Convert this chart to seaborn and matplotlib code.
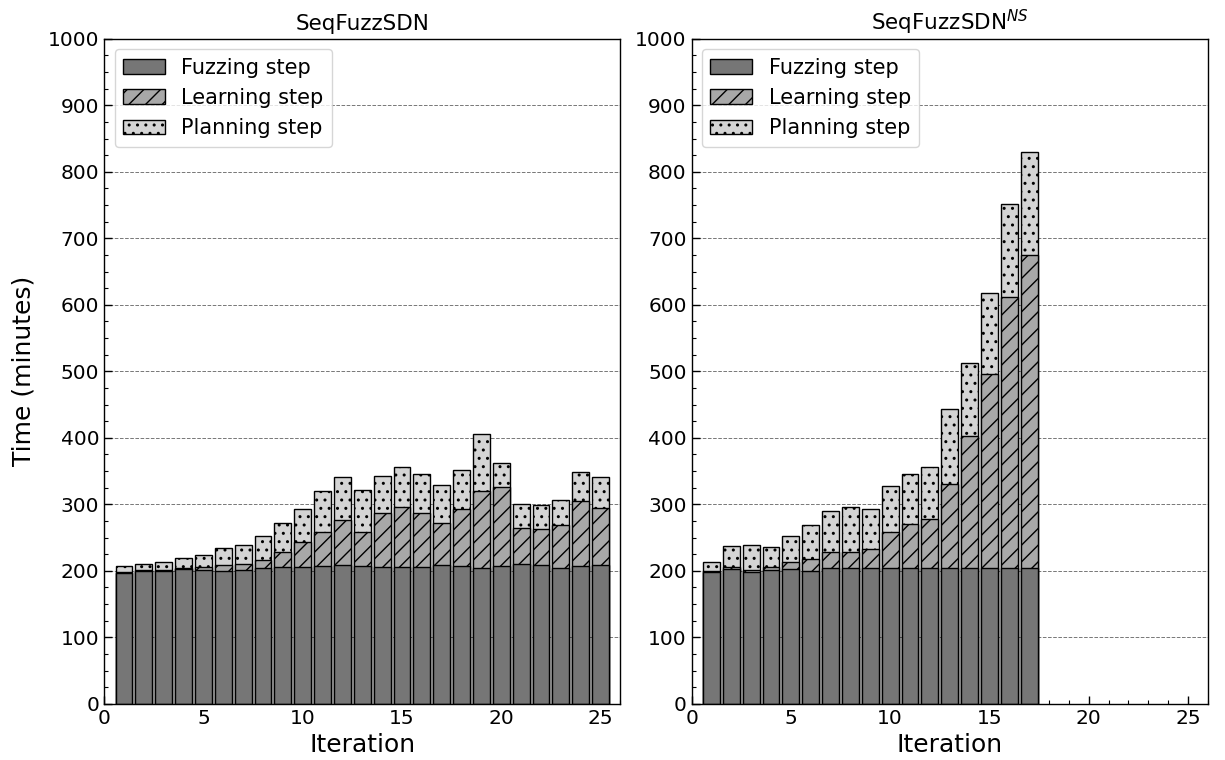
import numpy as np
import pandas as pd
import matplotlib
matplotlib.use("Agg")
import matplotlib.pyplot as plt
from matplotlib.patches import Patch
from matplotlib.ticker import MultipleLocator
import seaborn as sns

# ---------------- data ----------------
iter_a = list(range(1, 26))
fuzz_a = [197, 199, 199, 202.5, 201.5, 200, 201.5, 203.5, 205, 205, 207, 208.5, 207,
          206, 205.5, 205, 209, 207.5, 203.5, 206.5, 209.5, 209, 203.5, 207.5, 208.5]
learn_a = [1, 2, 1.5, 2, 4, 8.5, 8.5, 13, 23, 38.5, 51.5, 68.5, 52,
           81, 90, 82, 63.5, 85.5, 117, 119, 55.5, 54, 65, 97, 86.5]
plan_a = [8.5, 9.5, 12, 14, 18, 25.5, 29, 36.5, 44, 49, 61, 64.5, 62,
          55, 60, 58.5, 56.5, 59, 84.5, 36.5, 35.5, 36, 38.5, 44, 46.5]

iter_b = list(range(1, 18))
fuzz_b = [198, 203, 198, 201.5, 202.5, 199, 203.5, 203.5, 203.5, 204, 204, 204, 204,
          204, 204, 204, 204]
learn_b = [1, 2, 3.5, 3.5, 11, 18.5, 24.5, 25, 29.5, 55, 66.5, 73.5, 126,
           199, 292, 407, 471]
plan_b = [14, 31.5, 37, 30.5, 39, 51, 62, 67.5, 60, 69, 75.5, 79, 114,
          110, 122, 140, 154]

titles = ["SeqFuzzSDN", "SeqFuzzSDN$^{NS}$"]
labels = ["Fuzzing step", "Learning step", "Planning step"]
colors = ["#767676", "#a8a8a8", "#d4d4d4"]
hatches = ["", "//", ".."]

# ---------------- style ----------------
sns.set_theme(style="white")
plt.rcParams["font.family"] = ["DejaVu Sans"]
plt.rcParams["hatch.linewidth"] = 1.0
plt.rcParams["hatch.color"] = "black"
plt.rcParams["text.color"] = "black"
plt.rcParams["axes.labelcolor"] = "black"
plt.rcParams["xtick.color"] = "black"
plt.rcParams["ytick.color"] = "black"

fig, axes = plt.subplots(1, 2, figsize=(12.25, 7.6), dpi=100)
fig.subplots_adjust(left=0.085, right=0.986, bottom=0.074, top=0.949, wspace=0.138)

panels = [(iter_a, fuzz_a, learn_a, plan_a), (iter_b, fuzz_b, learn_b, plan_b)]

for ax, title, (it, fz, ln, pl) in zip(axes, titles, panels):
    df = pd.DataFrame({"Iteration": it, "fuzz": fz, "learn": ln, "plan": pl})
    df["lvl_fuzz"] = df["fuzz"]
    df["lvl_learn"] = df["fuzz"] + df["learn"]
    df["lvl_plan"] = df["fuzz"] + df["learn"] + df["plan"]
    # draw from top layer down so lower layers cover upper ones
    for col, c, h in [("lvl_plan", colors[2], hatches[2]),
                      ("lvl_learn", colors[1], hatches[1]),
                      ("lvl_fuzz", colors[0], hatches[0])]:
        sns.barplot(data=df, x="Iteration", y=col, native_scale=True, ax=ax,
                    color=c, saturation=1, width=0.85, edgecolor="black",
                    linewidth=1.0, hatch=h, errorbar=None, zorder=2)

    ax.set_xlim(0, 26)
    ax.set_ylim(0, 1000)
    ax.set_title(title, fontsize=15.5, color="black")
    ax.set_xlabel("Iteration", fontsize=18)
    ax.set_ylabel("")
    ax.yaxis.set_major_locator(MultipleLocator(100))
    ax.yaxis.set_minor_locator(MultipleLocator(25))
    ax.xaxis.set_major_locator(MultipleLocator(5))
    ax.xaxis.set_minor_locator(MultipleLocator(1))
    ax.tick_params(axis="both", which="both", direction="in", labelsize=14.5,
                   left=True, bottom=True, top=False, right=False, colors="black")
    ax.tick_params(axis="both", which="major", length=6, width=1)
    ax.tick_params(axis="both", which="minor", length=3, width=0.8)
    ax.yaxis.grid(True, which="major", linestyle="--", color="#777777", linewidth=0.7)
    ax.xaxis.grid(False)
    ax.set_axisbelow(True)
    for s in ax.spines.values():
        s.set_visible(True)
        s.set_color("black")
        s.set_linewidth(1.0)

    handles = [Patch(facecolor=colors[k], edgecolor="black", hatch=hatches[k],
                     linewidth=1.0, label=labels[k]) for k in range(3)]
    leg = ax.legend(handles=handles, loc="upper left", fontsize=15, frameon=True,
                    framealpha=0.8, edgecolor="#cccccc", fancybox=True)
    for t in leg.get_texts():
        t.set_color("black")

axes[0].set_ylabel("Time (minutes)", fontsize=18, labelpad=9)

fig.savefig("out.png", dpi=100)
